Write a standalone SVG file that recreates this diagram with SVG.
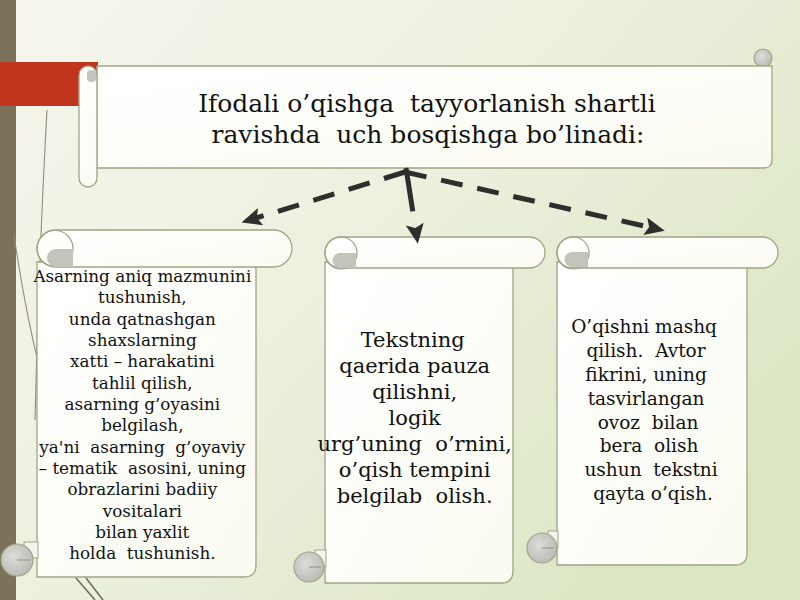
<svg xmlns="http://www.w3.org/2000/svg" width="800" height="600" viewBox="0 0 800 600">
<defs>
<linearGradient id="bg" x1="0" y1="0" x2="1" y2="0.7">
<stop offset="0" stop-color="#f5f5ee"/>
<stop offset="0.45" stop-color="#eef1e0"/>
<stop offset="1" stop-color="#dbe6c3"/>
</linearGradient>
<linearGradient id="paper" x1="0" y1="0" x2="1" y2="1">
<stop offset="0" stop-color="#ffffff"/>
<stop offset="1" stop-color="#fbfbf2"/>
</linearGradient>
<radialGradient id="curl" cx="0.4" cy="0.4" r="0.7">
<stop offset="0" stop-color="#dcdcd8"/>
<stop offset="1" stop-color="#b8b8b2"/>
</radialGradient>
<marker id="ah" viewBox="0 0 20 18" markerWidth="20" markerHeight="18" markerUnits="userSpaceOnUse" refX="8" refY="9" orient="auto">
<path d="M0,0 L20,9 L0,18 L4,9 Z" fill="#2e2e2c"/>
</marker>
<style>
.pap{fill:url(#paper);stroke:#a3a385;stroke-width:1.3}
.cl{fill:url(#curl);stroke:#a3a385;stroke-width:1.2}
.ln{fill:none;stroke:#8f8f78;stroke-width:1.1}
.t{font-family:"DejaVu Serif","Liberation Serif",serif;fill:#111;text-anchor:middle;white-space:pre}
.con{fill:none;stroke:#2e2e2c;stroke-width:5;stroke-dasharray:22 15;marker-end:url(#ah)}
</style>
</defs>
<rect width="800" height="600" fill="url(#bg)"/>
<rect x="0" y="0" width="16" height="600" fill="#7b7259"/>
<rect x="0" y="62" width="98" height="44" fill="#c1341e"/>
<path class="ln" d="M47,110 C42,200 38,300 35,420"/>
<path class="ln" d="M14,235 C22,290 30,330 40,370"/>
<path d="M76,578 L95,600 M86,578 L103,600" stroke="#6f6f60" stroke-width="1.6" fill="none"/>

<g id="title">
<circle class="cl" cx="763" cy="58" r="9"/>
<path class="pap" d="M97,66 H772 V160 Q772,168 764,168 H97 Z"/>
<rect class="pap" x="79" y="66" width="18" height="121" rx="9"/>
<rect x="87" y="70" width="9" height="12" rx="4" fill="#c4c4bc"/>
<text class="t" font-size="25" x="427" y="112">Ifodali o’qishga  tayyorlanish shartli</text>
<text class="t" font-size="25" x="428" y="143">ravishda  uch bosqishga bo’linadi:</text>
</g>

<g id="box1">
<path class="pap" d="M37,262 H256 V565 Q256,577 244,577 H37 Z"/>
<rect x="24" y="542" width="14" height="16" fill="#f4f4ee" stroke="#a3a385" stroke-width="1"/>
<circle class="cl" cx="17" cy="560" r="16"/>
<path d="M17,560 H30" stroke="#8f8f80" stroke-width="1" fill="none"/>
<rect class="pap" x="37" y="230" width="255" height="37" rx="18.5"/>
<circle cx="55" cy="248.5" r="18" fill="none" stroke="#a3a385" stroke-width="1.2"/>
<path d="M73,249 H56 A9,9 0 0 0 56,267 H73 Z" fill="#c4c4bc"/>
<text class="t" font-size="16.8">
<tspan x="145" y="282">Asarning aniq mazmunini</tspan>
<tspan x="145" y="303">tushunish,</tspan>
<tspan x="145" y="325">unda qatnashgan</tspan>
<tspan x="145" y="346">shaxslarning</tspan>
<tspan x="145" y="367">xatti – harakatini</tspan>
<tspan x="145" y="389">tahlil qilish,</tspan>
<tspan x="145" y="410">asarning g’oyasini</tspan>
<tspan x="145" y="431">belgilash,</tspan>
<tspan x="145" y="453">ya'ni  asarning  g’oyaviy</tspan>
<tspan x="145" y="474">– tematik  asosini, uning</tspan>
<tspan x="145" y="495">obrazlarini badiiy</tspan>
<tspan x="145" y="517">vositalari</tspan>
<tspan x="145" y="538">bilan yaxlit</tspan>
<tspan x="145" y="559">holda  tushunish.</tspan>
</text>
</g>

<g id="box2">
<path class="pap" d="M325,262 H513 V571 Q513,583 501,583 H325 Z"/>
<rect x="315" y="550" width="11" height="16" fill="#f4f4ee" stroke="#a3a385" stroke-width="1"/>
<circle class="cl" cx="309" cy="567" r="15"/>
<path d="M309,567 H321" stroke="#8f8f80" stroke-width="1" fill="none"/>
<rect class="pap" x="325" y="237" width="220" height="31" rx="15.5"/>
<circle cx="341" cy="253" r="16" fill="none" stroke="#a3a385" stroke-width="1.2"/>
<path d="M356,253 H340 A7.5,7.5 0 0 0 340,268 H356 Z" fill="#c4c4bc"/>
<text class="t" font-size="21">
<tspan x="416" y="347">Tekstning</tspan>
<tspan x="418" y="373">qaerida pauza</tspan>
<tspan x="418" y="399">qilishni,</tspan>
<tspan x="418" y="425">logik</tspan>
<tspan x="418" y="451">urg’uning  o’rnini,</tspan>
<tspan x="418" y="477">o’qish tempini</tspan>
<tspan x="418" y="503">belgilab  olish.</tspan>
</text>
</g>

<g id="box3">
<path class="pap" d="M557,262 H747 V553 Q747,565 735,565 H557 Z"/>
<rect x="548" y="531" width="10" height="16" fill="#f4f4ee" stroke="#a3a385" stroke-width="1"/>
<circle class="cl" cx="542" cy="548" r="15"/>
<path d="M542,548 H554" stroke="#8f8f80" stroke-width="1" fill="none"/>
<rect class="pap" x="557" y="237" width="221" height="31" rx="15.5"/>
<circle cx="573" cy="253" r="16" fill="none" stroke="#a3a385" stroke-width="1.2"/>
<path d="M588,252 H572 A7.5,7.5 0 0 0 572,267 H588 Z" fill="#c4c4bc"/>
<text class="t" font-size="18.5">
<tspan x="647" y="333">O’qishni mashq</tspan>
<tspan x="649" y="357">qilish.  Avtor</tspan>
<tspan x="649" y="381">fikrini, uning</tspan>
<tspan x="649" y="405">tasvirlangan</tspan>
<tspan x="651" y="429">ovoz  bilan</tspan>
<tspan x="652" y="452">bera  olish</tspan>
<tspan x="654" y="476">ushun  tekstni</tspan>
<tspan x="656" y="500">qayta o’qish.</tspan>
</text>
</g>

<g id="connectors">
<path class="con" d="M405,172 L253,219"/>
<path class="con" d="M406,168 L416,232" style="stroke-dasharray:44 100"/>
<path class="con" d="M405,172 L653,228"/>
</g>
</svg>
